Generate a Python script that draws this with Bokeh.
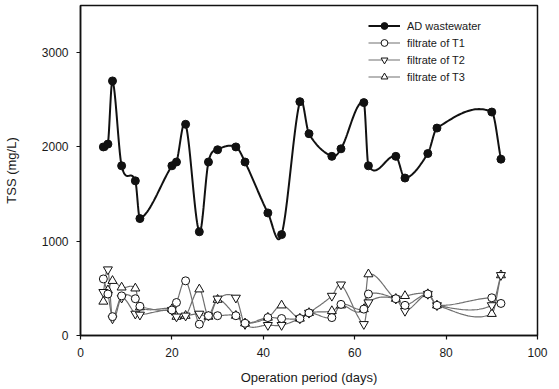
import numpy as np
from bokeh.plotting import figure
from bokeh.models import Legend, LegendItem, Range1d, FixedTicker
from bokeh.embed import file_html
from bokeh.resources import INLINE

# Sampling days and total suspended solids (mg/L)
days = [5, 6, 7, 9, 12, 13, 20, 21, 23, 26, 28, 30, 34, 36, 41, 44,
        48, 50, 55, 57, 62, 63, 69, 71, 76, 78, 90, 92]
ad_wastewater = [2000, 2030, 2700, 1800, 1640, 1240, 1800, 1840, 2240, 1100,
                 1840, 1970, 2000, 1840, 1300, 1070, 2480, 2140, 1900, 1980,
                 2470, 1800, 1900, 1670, 1930, 2200, 2370, 1870]
filtrate_t1 = [600, 440, 200, 420, 390, 310, 270, 350, 580, 120, 210, 210,
               210, 130, 190, 180, 180, 240, 190, 330, 280, 440, 390, 320,
               440, 320, 400, 340]
filtrate_t2 = [460, 700, 180, 400, 230, 220, 270, 200, 210, 230, 210, 390,
               400, 120, 110, 110, 180, 240, 420, 540, 120, 350, 390, 260,
               440, 320, 320, 640]
filtrate_t3 = [360, 480, 580, 510, 500, 300, 280, 200, 210, 490, 200, 380,
               210, 130, 190, 320, 180, 240, 260, 320, 280, 650, 390, 420,
               440, 320, 230, 640]
x_ticks = [0, 20, 40, 60, 80, 100]
y_ticks = [0, 1000, 2000, 3000]

FONT = "Liberation Sans"
TEXT = "#1a1a1a"


def smooth_curve(x, y, n=30):
    """Cubic Hermite curve through the points with centred-difference slopes."""
    x = np.asarray(x, float)
    y = np.asarray(y, float)
    k = len(x)
    m = np.zeros(k)
    m[0] = (y[1] - y[0]) / (x[1] - x[0])
    m[-1] = (y[-1] - y[-2]) / (x[-1] - x[-2])
    for i in range(1, k - 1):
        m[i] = (y[i + 1] - y[i - 1]) / (x[i + 1] - x[i - 1])
    xs, ys = [], []
    for i in range(k - 1):
        h = x[i + 1] - x[i]
        t = np.linspace(0, 1, n, endpoint=(i == k - 2))
        h00 = 2 * t ** 3 - 3 * t ** 2 + 1
        h10 = t ** 3 - 2 * t ** 2 + t
        h01 = -2 * t ** 3 + 3 * t ** 2
        h11 = t ** 3 - t ** 2
        xs.extend(x[i] + t * h)
        ys.extend(h00 * y[i] + h10 * h * m[i] + h01 * y[i + 1] + h11 * h * m[i + 1])
    return xs, ys


p = figure(width=559, height=389, output_backend="svg", toolbar_location=None,
           x_range=Range1d(0, 100), y_range=Range1d(0, 3500),
           min_border_left=80, min_border_right=22,
           min_border_top=5, min_border_bottom=54)
p.background_fill_color = "white"
p.border_fill_color = "white"
p.outline_line_color = "#111111"
p.outline_line_width = 1.5
p.xgrid.visible = False
p.ygrid.visible = False

for ax in (p.xaxis[0], p.yaxis[0]):
    ax.axis_line_color = "#111111"
    ax.axis_line_width = 1.5
    ax.major_tick_line_color = "#111111"
    ax.major_tick_line_width = 1.2
    ax.major_tick_in = 0
    ax.major_tick_out = 4
    ax.minor_tick_line_color = None
    ax.major_label_text_font = FONT
    ax.major_label_text_font_size = "12px"
    ax.major_label_text_color = TEXT
    ax.axis_label_text_font = FONT
    ax.axis_label_text_font_size = "13px"
    ax.axis_label_text_font_style = "normal"
    ax.axis_label_text_color = TEXT

p.xaxis.ticker = FixedTicker(ticks=x_ticks)
p.yaxis.ticker = FixedTicker(ticks=y_ticks)
p.xaxis.axis_label = "Operation period (days)"
p.yaxis.axis_label = "TSS (mg/L)"
p.xaxis.major_label_standoff = 8
p.xaxis.axis_label_standoff = 10
p.yaxis.major_label_standoff = 8
p.yaxis.axis_label_standoff = 20

GRAY = "#707070"
items = []

series = [
    ("filtrate of T3", filtrate_t3, "triangle"),
    ("filtrate of T2", filtrate_t2, "inverted_triangle"),
    ("filtrate of T1", filtrate_t1, "circle"),
]
renderers = {}
for name, vals, marker in series:
    sx, sy = smooth_curve(days, vals)
    ln = p.line(sx, sy, line_color=GRAY, line_width=1.2)
    renderers[name] = [ln]
for name, vals, marker in series:
    mk = p.scatter(days, vals, marker=marker, size=8 if marker == "circle" else 9,
                   fill_color="white", line_color="#111111", line_width=1)
    renderers[name].append(mk)

ax_x, ax_y = smooth_curve(days, ad_wastewater)
ad_line = p.line(ax_x, ax_y, line_color="#111111", line_width=2)
ad_pts = p.scatter(days, ad_wastewater, marker="circle", size=8,
                   fill_color="#111111", line_color="#111111")

items.append(LegendItem(label="AD wastewater", renderers=[ad_line, ad_pts]))
for name in ["filtrate of T1", "filtrate of T2", "filtrate of T3"]:
    items.append(LegendItem(label=name, renderers=renderers[name]))

legend = Legend(items=items, location=(288, 250), glyph_width=32,
                glyph_height=17, label_height=17, spacing=0, padding=0,
                margin=0, label_standoff=7, border_line_color=None,
                background_fill_alpha=0, label_text_font=FONT,
                label_text_font_size="11px", label_text_color=TEXT)
p.add_layout(legend)

open("out.html", "w").write(file_html(p, INLINE))
